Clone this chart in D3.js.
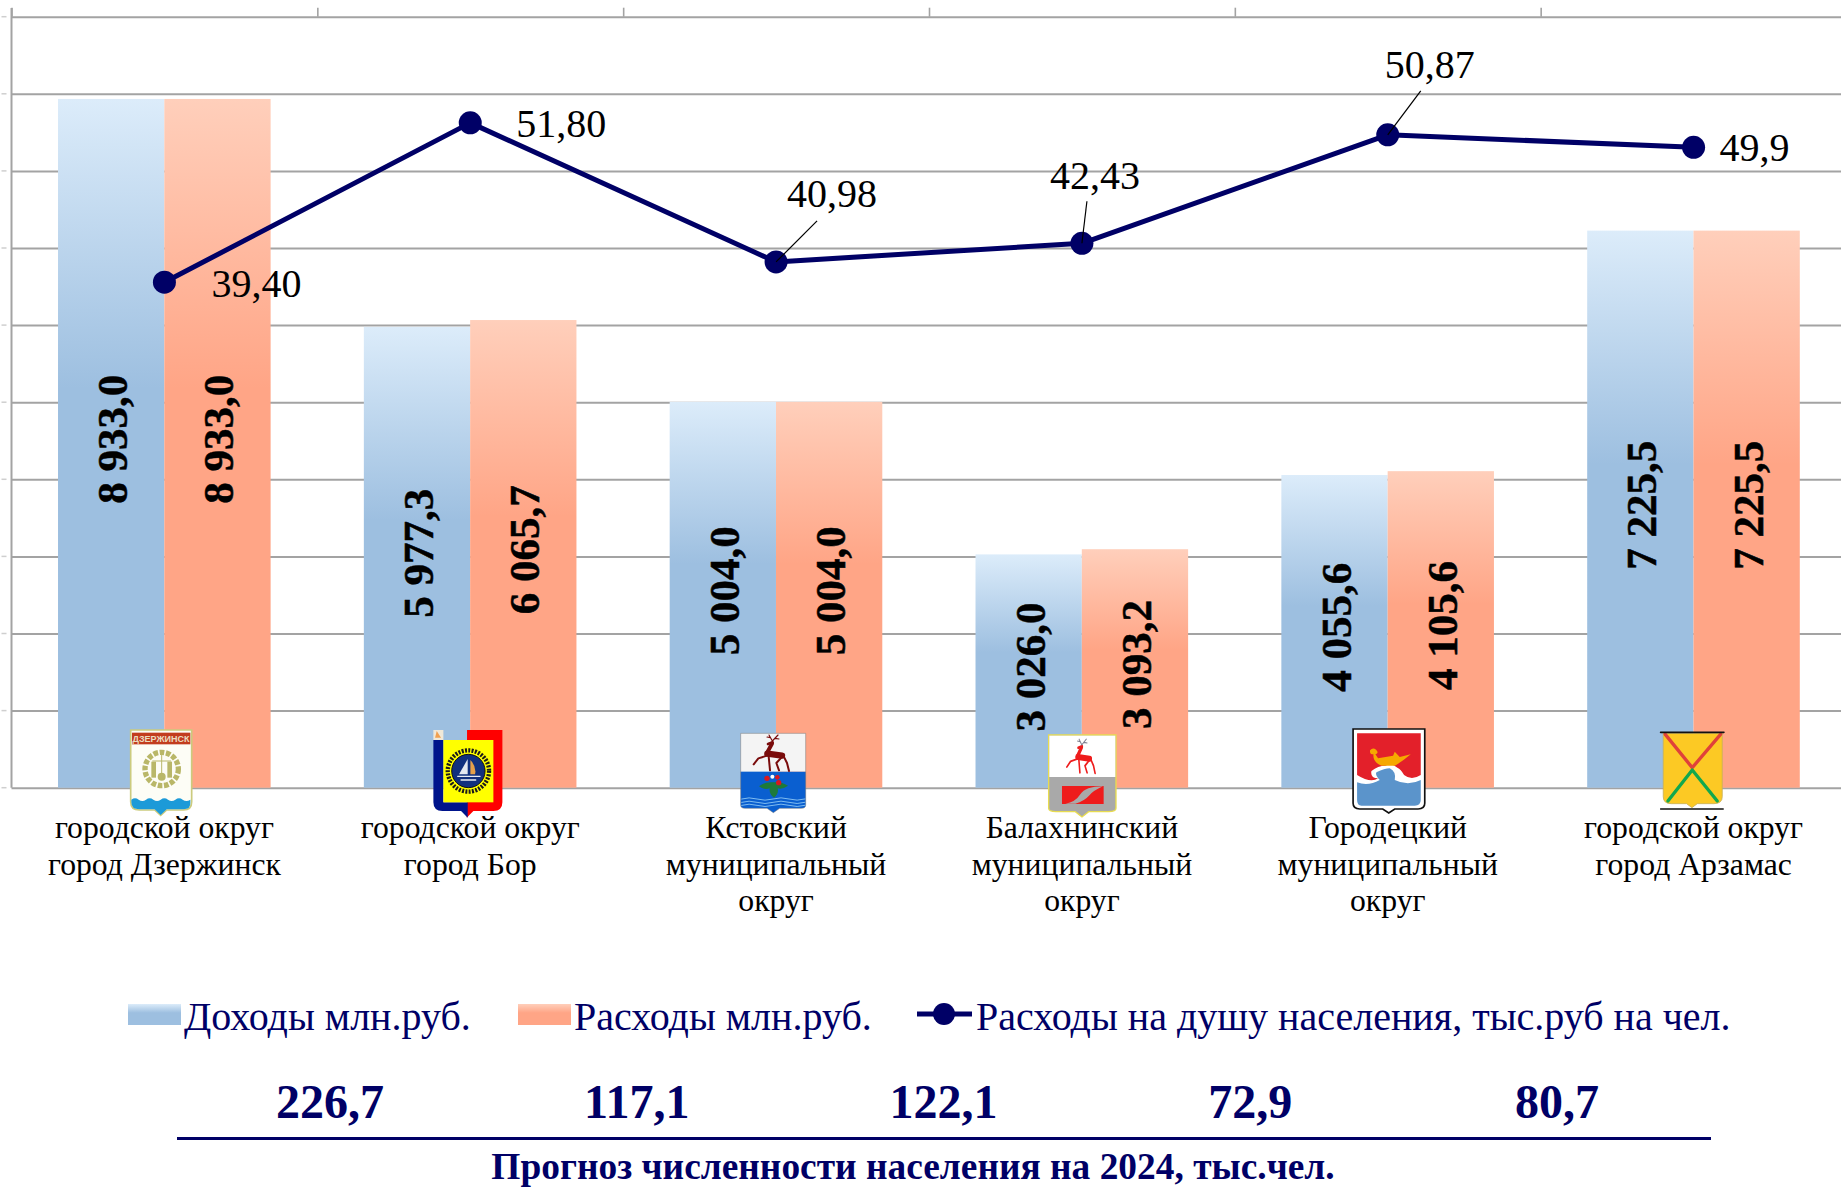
<!DOCTYPE html>
<html>
<head>
<meta charset="utf-8">
<script src="https://cdn.jsdelivr.net/npm/d3@7"></script>
<style>
  html, body { margin: 0; padding: 0; background: #fff; }
  svg { display: block; }
  text { font-family: "Liberation Serif", serif; }
</style>
</head>
<body>
<svg id="chart" width="1841" height="1188"></svg>
<script>
const categories = [
  "городской округ|город Дзержинск",
  "городской округ|город Бор",
  "Кстовский|муниципальный|округ",
  "Балахнинский|муниципальный|округ",
  "Городецкий|муниципальный|округ",
  "городской округ|город Арзамас"
];
const seriesKeys = ["Доходы млн.руб.", "Расходы млн.руб."];
const lineName = "Расходы на душу населения, тыс.руб на чел.";
const incomes = [8933.0, 5977.3, 5004.0, 3026.0, 4055.6, 7225.5];
const expenses = [8933.0, 6065.7, 5004.0, 3093.2, 4105.6, 7225.5];
const perCapita = [39.40, 51.80, 40.98, 42.43, 50.87, 49.9];
const perCapitaLabels = ["39,40", "51,80", "40,98", "42,43", "50,87", "49,9"];
const population = ["226,7", "117,1", "122,1", "72,9", "80,7"];
const footer = "Прогноз численности населения на 2024, тыс.чел.";

const navy = "#000066";
const svg = d3.select("#chart");
const plot = { left: 11.5, right: 1846.5, top: 16.7, bottom: 787.7 };

const x = d3.scaleBand().domain(categories).range([plot.left, plot.right]);
const xEdge = d3.scaleLinear().domain([0, 6]).range([plot.left, plot.right]);
const barWidth = 106.3;
const xInner = d3.scaleBand().domain(seriesKeys).range([0, barWidth * 2]);
const barOffset = (x.bandwidth() - barWidth * 2) / 2 - 0.1;
const y = d3.scaleLinear().domain([0, 10000]).range([plot.bottom, plot.top]);
const y2 = d3.scaleLinear().domain([0, 60]).range([plot.bottom + 0.8, plot.top + 0.8]);
const xPop = d3.scaleLinear().domain([0, 4]).range([330, 1557]);
const fmt = d3.formatLocale({ decimal: ",", thousands: " ", grouping: [3], currency: ["", ""] }).format(",.1f");

const defs = svg.append("defs");
function gradient(id, from, to) {
  const g = defs.append("linearGradient").attr("id", id).attr("x1", 0).attr("x2", 0).attr("y1", 0).attr("y2", 1);
  g.append("stop").attr("offset", 0).attr("stop-color", from);
  g.append("stop").attr("offset", 0.42).attr("stop-color", to);
  g.append("stop").attr("offset", 1).attr("stop-color", to);
}
gradient("gradA", "#dcecfa", "#9dbfe0");
gradient("gradB", "#ffcfbb", "#ffa586");

// axes and grid
const gridAxis = svg.append("g")
  .attr("transform", "translate(" + plot.left + ",0)")
  .call(d3.axisLeft(y).ticks(10).tickSize(-(plot.right - plot.left)).tickFormat(""));
gridAxis.selectAll(".tick line").attr("stroke", "#a3a3a3").attr("stroke-width", 2);
gridAxis.select(".domain").remove();
gridAxis.append("g").selectAll("line")
  .data(y.ticks(10))
  .enter().append("line")
  .attr("x1", -10).attr("x2", -5)
  .attr("y1", d => y(d)).attr("y2", d => y(d))
  .attr("stroke", "#cfcfcf").attr("stroke-width", 1.5);

svg.append("line").attr("x1", plot.left).attr("x2", plot.left)
  .attr("y1", 8).attr("y2", plot.bottom)
  .attr("stroke", "#a3a3a3").attr("stroke-width", 2);

const topAxis = svg.append("g")
  .attr("transform", "translate(0," + plot.top + ")")
  .call(d3.axisTop(xEdge).ticks(6).tickSize(9).tickFormat(""));
topAxis.selectAll("line").attr("stroke", "#a3a3a3").attr("stroke-width", 1.6);
topAxis.select(".domain").remove();

// bars
const groups = svg.append("g").selectAll("g")
  .data(categories)
  .enter().append("g")
  .attr("transform", d => "translate(" + (x(d) + barOffset) + ",0)");

[incomes, expenses].forEach((values, s) => {
  groups.append("rect")
    .attr("x", xInner(seriesKeys[s]))
    .attr("width", xInner.bandwidth())
    .attr("y", (d, i) => y(values[i]))
    .attr("height", (d, i) => plot.bottom - y(values[i]))
    .attr("fill", s === 0 ? "url(#gradA)" : "url(#gradB)");

  groups.append("text")
    .attr("transform", (d, i) => "translate(" + (xInner(seriesKeys[s]) + xInner.bandwidth() / 2 + 16) + "," + ((y(values[i]) + plot.bottom) / 2 - 4) + ") rotate(-90)")
    .attr("text-anchor", "middle")
    .attr("font-size", 43)
    .attr("font-weight", "bold")
    .attr("stroke", "#000")
    .attr("stroke-width", 0.5)
    .attr("fill", "#000")
    .text((d, i) => fmt(values[i]));
});

// line series
const pointX = i => x(categories[i]) + x.bandwidth() / 2;
const linePath = d3.line().x((d, i) => pointX(i)).y(d => y2(d));
svg.append("path")
  .datum(perCapita)
  .attr("d", linePath)
  .attr("fill", "none")
  .attr("stroke", navy)
  .attr("stroke-width", 5)
  .attr("stroke-linejoin", "round");

svg.append("g").selectAll("circle")
  .data(perCapita)
  .enter().append("circle")
  .attr("cx", (d, i) => pointX(i))
  .attr("cy", d => y2(d))
  .attr("r", 11.5)
  .attr("fill", navy);

// value labels beside the line, some with leader lines
const labelOffsets = [[92, 15], [91, 14], [56, -55], [13, -54], [42, -57], [61, 14]];
const leaderEnds = [null, null, [41, -41], [5, -42], [33, -44], null];

svg.append("g").selectAll("line")
  .data(perCapita.map((d, i) => i).filter(i => leaderEnds[i]))
  .enter().append("line")
  .attr("x1", pointX)
  .attr("y1", i => y2(perCapita[i]))
  .attr("x2", i => pointX(i) + leaderEnds[i][0])
  .attr("y2", i => y2(perCapita[i]) + leaderEnds[i][1])
  .attr("stroke", "#000").attr("stroke-width", 1.2);

svg.append("g").selectAll("text")
  .data(perCapitaLabels)
  .enter().append("text")
  .attr("x", (d, i) => pointX(i) + labelOffsets[i][0])
  .attr("y", (d, i) => y2(perCapita[i]) + labelOffsets[i][1])
  .attr("text-anchor", "middle")
  .attr("font-size", 40)
  .attr("fill", "#000")
  .text(d => d);

// category labels
const catLabels = svg.append("g").selectAll("text")
  .data(categories)
  .enter().append("text")
  .attr("text-anchor", "middle")
  .attr("font-size", 31.7)
  .attr("fill", "#000");
catLabels.selectAll("tspan")
  .data(d => d.split("|").map(t => ({ t: t, c: d })))
  .enter().append("tspan")
  .attr("x", d => x(d.c) + x.bandwidth() / 2)
  .attr("y", (d, i) => 838 + i * 36.5)
  .text(d => d.t);

// coats of arms: each is drawn at 3x in its own frame and scaled down
function stroke(g, d, color, w) {
  return g.append("path").attr("d", d).attr("fill", "none").attr("stroke", color)
    .attr("stroke-width", w).attr("stroke-linecap", "round").attr("stroke-linejoin", "round");
}
function drawDeer(g, color, antler, t) {
  const p = g.append("g").attr("transform", t);
  stroke(p, "M113,86L157,92", color, 19);
  stroke(p, "M114,80L127,56", color, 12);
  stroke(p, "M129,52L115,57", color, 8);
  stroke(p, "M112,92L86,100L72,118", color, 6);
  stroke(p, "M117,95L121,136", color, 6);
  stroke(p, "M155,98L140,114L148,136", color, 6);
  stroke(p, "M162,94L172,114L178,138", color, 6);
  stroke(p, "M128,48L118,30M122,38L112,36M128,48L145,30M136,40L148,42", antler, 3.5);
}

const arms = [
  { dx: -44.4, top: 725, draw: g => {
    g.append("path").attr("d", "M32,15H215V230Q215,255 190,255H140L122,271 104,255H58Q32,255 32,230Z").attr("fill", "#fdfdf6").attr("stroke", "#cccb7e").attr("stroke-width", 5);
    g.append("rect").attr("x", 36).attr("y", 23).attr("width", 175).attr("height", 35).attr("fill", "#c23c1e");
    g.append("text").attr("x", 123).attr("y", 50).attr("text-anchor", "middle")
      .style("font-family", "Liberation Sans").attr("font-size", 27).attr("font-weight", "bold").attr("fill", "#ecdcc0").text("ДЗЕРЖИНСК");
    g.append("circle").attr("cx", 125).attr("cy", 132).attr("r", 50).attr("fill", "none").attr("stroke", "#b9b768").attr("stroke-width", 16).attr("stroke-dasharray", "14 5");
    g.append("rect").attr("x", 94).attr("y", 110).attr("width", 14).attr("height", 48).attr("fill", "#b9b768");
    g.append("rect").attr("x", 142).attr("y", 110).attr("width", 14).attr("height", 48).attr("fill", "#b9b768");
    g.append("circle").attr("cx", 125).attr("cy", 155).attr("r", 12).attr("fill", "#b9b768");
    stroke(g, "M98,108L152,108M125,88V145", "#b9b768", 3);
    g.append("path").attr("d", "M34,224q11,-8 22,0t22,0 22,0 22,0 22,0 22,0 22,0 23,0V232Q213,253 190,253H140L122,270 104,253H58Q34,253 34,232Z").attr("fill", "#1c9ad8");
  } },
  { dx: -45.2, top: 725, draw: g => {
    g.append("path").attr("d", "M55,15H232V232Q232,258 205,258H145L125,278 126,15Z").attr("fill", "#ff0000");
    g.append("path").attr("d", "M25,45H55V232H128V278L108,258H52Q25,258 25,232Z").attr("fill", "#00148c");
    g.append("rect").attr("x", 25).attr("y", 15).attr("width", 30).attr("height", 30).attr("fill", "#f0e8d8");
    g.append("path").attr("d", "M35,18L48,38H30Z").attr("fill", "#f0a050");
    g.append("rect").attr("x", 55).attr("y", 45).attr("width", 150).attr("height", 187).attr("fill", "#ffff00");
    g.append("circle").attr("cx", 130).attr("cy", 138).attr("r", 62).attr("fill", "none").attr("stroke", "#1a1a1a").attr("stroke-width", 13).attr("stroke-dasharray", "6 4");
    g.append("circle").attr("cx", 130).attr("cy", 138).attr("r", 50).attr("fill", "#11307e").attr("stroke", "#111").attr("stroke-width", 3);
    g.append("path").attr("d", "M128,102V148H102Z").attr("fill", "#e4e8f0");
    g.append("path").attr("d", "M136,105Q155,125 150,148H136Z").attr("fill", "#e5a04a");
    stroke(g, "M98,154H165M108,165H152", "#e8ecf4", 4);
  } },
  { dx: -46.4, top: 725, draw: g => {
    g.append("rect").attr("x", 33).attr("y", 25).attr("width", 195).attr("height", 115).attr("fill", "#f4f4f4");
    g.append("path").attr("d", "M33,140H228V240Q228,250 215,250H150L131,263 112,250H46Q33,250 33,240Z").attr("fill", "#0a5fd0");
    g.append("path").attr("d", "M33,25H228V240Q228,250 215,250H150L131,263 112,250H46Q33,250 33,240Z").attr("fill", "none").attr("stroke", "#777").attr("stroke-width", 1.5);
    drawDeer(g, "#7a0c0c", "#7a0c0c", "translate(0,0)");
    g.append("path").attr("d", "M130,172Q105,170 88,184Q105,196 120,190Q118,208 133,218Q148,206 144,190Q158,194 175,182Q155,170 130,172Z").attr("fill", "#1d7a3a");
    g.append("circle").attr("cx", 112).attr("cy", 160).attr("r", 8).attr("fill", "#d81820");
    g.append("circle").attr("cx", 147).attr("cy", 173).attr("r", 8).attr("fill", "#d81820");
    g.append("circle").attr("cx", 143).attr("cy", 157).attr("r", 7).attr("fill", "#d81820");
    g.append("circle").attr("cx", 128).attr("cy", 155).attr("r", 6).attr("fill", "#fff");
    ["M36,222q22,-7 46,0t48,0 48,0 48,0", "M36,232q22,-7 46,0t48,0 48,0 48,0", "M36,241q22,-7 46,0t48,0 48,0 48,0"]
      .forEach(d => stroke(g, d, "#7fbcf0", 3));
  } },
  { dx: -41.6, top: 725, draw: g => {
    g.append("path").attr("d", "M25,30H227V250Q227,260 205,260H145L125,276 105,260H47Q25,260 25,250Z").attr("fill", "#a9a9a9").attr("stroke", "#e8dc50").attr("stroke-width", 4);
    g.append("rect").attr("x", 27).attr("y", 32).attr("width", 198).attr("height", 124).attr("fill", "#fff");
    drawDeer(g, "#ee1c1c", "#7f8090", "translate(22,14) scale(0.8,0.95)");
    g.append("rect").attr("x", 65).attr("y", 183).attr("width", 125).attr("height", 54).attr("fill", "#ee1c1c");
    g.append("path").attr("d", "M75,236Q105,232 120,208T188,184Q160,196 146,212T105,236Z").attr("fill", "#a9a9a9");
  } },
  { dx: -43, top: 725, draw: g => {
    g.append("path").attr("d", "M25,12H240V235Q240,252 220,252H150L132,264 114,252H45Q25,252 25,235Z").attr("fill", "#fff").attr("stroke", "#111").attr("stroke-width", 5);
    g.append("path").attr("d", "M37,25H228V150Q200,168 178,150Q168,132 158,128Q140,112 122,122Q100,122 80,138Q76,160 100,160Q78,176 37,150Z").attr("fill", "#e3202a");
    g.append("path").attr("d", "M37,172Q70,185 105,165Q90,150 95,142Q120,130 135,130Q155,140 150,165Q190,185 228,165V225Q228,242 210,242H50Q37,242 37,225Z").attr("fill", "#5b94cb");
    g.append("path").attr("d", "M76,76Q84,66 94,74Q104,84 92,88L100,100 145,92 150,80 165,96 198,88Q172,110 150,122H110Q84,112 86,88Q74,88 76,76Z").attr("fill", "#f6a800");
  } },
  { dx: -43, top: 725, draw: g => {
    g.append("path").attr("d", "M38,25H215V215Q215,236 190,236H140L124,248 108,236H62Q38,236 38,215Z").attr("fill", "#fcc924").attr("stroke", "#c9b15a").attr("stroke-width", 2.5);
    stroke(g, "M44,28L125,128L210,28", "#e0413a", 10);
    stroke(g, "M52,228L125,135L200,228", "#12a84e", 10);
    stroke(g, "M30,22H220", "#111", 5);
    stroke(g, "M30,252H218", "#111", 4);
  } }
];

arms.forEach((a, i) => {
  const g = svg.append("g")
    .attr("transform", "translate(" + (pointX(i) + a.dx) + "," + a.top + ") scale(" + (1 / 3) + ")");
  a.draw(g);
});

// legend
const legend = svg.append("g");
const legendSwatchX = [128, 518];
const legendTextX = [184, 574];
seriesKeys.forEach((k, i) => {
  legend.append("rect").attr("x", legendSwatchX[i]).attr("y", 1004).attr("width", 53).attr("height", 21)
    .attr("fill", i === 0 ? "url(#gradA)" : "url(#gradB)");
  legend.append("text").attr("x", legendTextX[i]).attr("y", 1030).attr("font-size", 40).attr("fill", navy).text(k);
});
legend.append("line").attr("x1", 917).attr("x2", 972).attr("y1", 1014).attr("y2", 1014).attr("stroke", navy).attr("stroke-width", 5);
legend.append("circle").attr("cx", 944).attr("cy", 1014).attr("r", 11).attr("fill", navy);
legend.append("text").attr("x", 976).attr("y", 1030).attr("font-size", 40).attr("fill", navy).text(lineName);

// population row under the legend
svg.append("g").selectAll("text")
  .data(population)
  .enter().append("text")
  .attr("x", (d, i) => xPop(i))
  .attr("y", 1118)
  .attr("text-anchor", "middle")
  .attr("font-size", 48)
  .attr("font-weight", "bold")
  .attr("fill", navy)
  .text(d => d);

svg.append("line").attr("x1", 177).attr("x2", 1711).attr("y1", 1138.5).attr("y2", 1138.5)
  .attr("stroke", navy).attr("stroke-width", 3);

svg.append("text").attr("x", 913).attr("y", 1179)
  .attr("text-anchor", "middle")
  .attr("font-size", 37.4)
  .attr("font-weight", "bold")
  .attr("fill", navy)
  .text(footer);
</script>
</body>
</html>
